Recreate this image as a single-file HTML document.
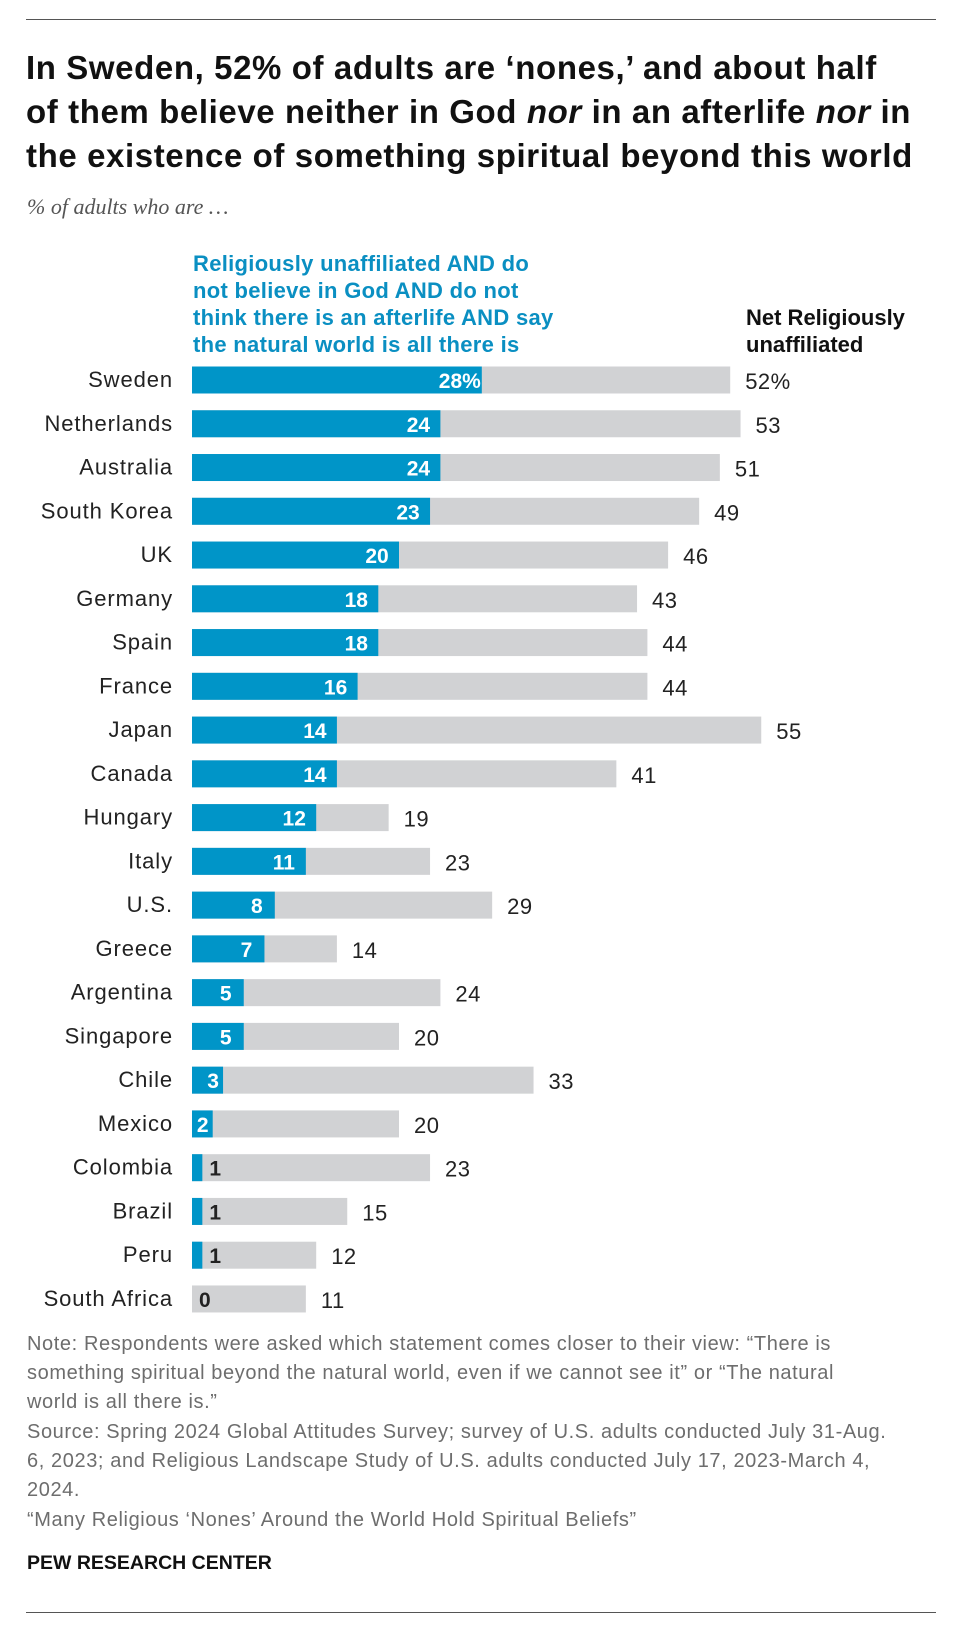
<!DOCTYPE html>
<html><head><meta charset="utf-8"><style>
body{margin:0;width:960px;height:1630px;background:#fff;position:relative;font-family:"Liberation Sans",sans-serif;overflow:hidden}
.rule{position:absolute;left:26px;width:910px;height:1px;background:#555}
#title{position:absolute;left:26px;top:46px;font-size:33px;font-weight:bold;line-height:44px;color:#111;letter-spacing:0.6px;white-space:nowrap}
#sub{position:absolute;left:27px;top:194px;font-family:"Liberation Serif",serif;font-style:italic;font-size:22px;color:#555}
.leg{position:absolute;font-weight:bold;font-size:22px;line-height:27px;white-space:nowrap}
.note{position:absolute;left:27px;font-size:20px;letter-spacing:0.6px;line-height:29px;color:#6d6d6d;width:895px}
</style></head><body>
<div class="rule" style="top:19px"></div>
<div id="title">In Sweden, 52% of adults are ‘nones,’ and about half<br>of them believe neither in God <i>nor</i> in an afterlife <i>nor</i> in<br>the existence of something spiritual beyond this world</div>
<div id="sub">% of adults who are …</div>
<div class="leg" style="left:193px;top:250px;color:#0a8fc2;letter-spacing:0.3px">Religiously unaffiliated AND do<br>not believe in God AND do not<br>think there is an afterlife AND say<br>the natural world is all there is</div>
<div class="leg" style="left:746px;top:304px;color:#111">Net Religiously<br>unaffiliated</div>
<svg id="chart" width="960" height="1630" style="position:absolute;left:0;top:0"></svg>
<div class="note" style="top:1330px">Note: Respondents were asked which statement comes closer to their view: “There is<br>something spiritual beyond the natural world, even if we cannot see it” or “The natural<br>world is all there is.”</div>
<div class="note" style="top:1418px">Source: Spring 2024 Global Attitudes Survey; survey of U.S. adults conducted July 31-Aug.<br>6, 2023; and Religious Landscape Study of U.S. adults conducted July 17, 2023-March 4,<br>2024.</div>
<div class="note" style="top:1506px">“Many Religious ‘Nones’ Around the World Hold Spiritual Beliefs”</div>
<div style="position:absolute;left:27px;top:1552px;font-size:19.5px;font-weight:bold;color:#111">PEW RESEARCH CENTER</div>
<div class="rule" style="top:1612px"></div>
<script>
const countries=["Sweden","Netherlands","Australia","South Korea","UK","Germany","Spain","France","Japan","Canada","Hungary","Italy","U.S.","Greece","Argentina","Singapore","Chile","Mexico","Colombia","Brazil","Peru","South Africa"];
const nonbelievers=[28,24,24,23,20,18,18,16,14,14,12,11,8,7,5,5,3,2,1,1,1,0];
const netUnaffiliated=[52,53,51,49,46,43,44,44,55,41,19,23,29,14,24,20,33,20,23,15,12,11];
const NS="http://www.w3.org/2000/svg";
const svg=document.getElementById('chart');
const x0=192,scale=10.35;
function xs(v){return v*scale;}
function ys(i){return 380+i*43.76;}
function mk(t,a){const e=document.createElementNS(NS,t);for(const k in a)e.setAttribute(k,a[k]);svg.appendChild(e);return e;}
countries.forEach((c,i)=>{
  const y=ys(i),h=27;
  const l=mk('text',{x:173,y:y+7,'text-anchor':'end','font-size':22,'letter-spacing':0.9,fill:'#222'});l.textContent=c;
  
  
  const g=mk('rect',{x:x0,y:y-h/2,width:xs(netUnaffiliated[i]),height:h,fill:'#d1d2d4'});
  
  
  const b=mk('rect',{x:x0,y:y-h/2,width:xs(nonbelievers[i]),height:h,fill:'#0095c8'});
  
  
  const v=nonbelievers[i];
  let bl;
  if(v>=2){bl=mk('text',{x:x0+xs(v)-(v>=5?(v>=10?22:18):10),y:y+8,'text-anchor':'middle','font-size':21,'font-weight':'bold',fill:'#fff'});bl.textContent=v+(i===0?'%':'');}
  else{bl=mk('text',{x:x0+xs(v)+7,y:y+8,'font-size':21,'font-weight':'bold',fill:'#222'});bl.textContent=v;}
  
  
  const nl=mk('text',{x:x0+xs(netUnaffiliated[i])+15,y:y+9,'font-size':22,'letter-spacing':0.5,fill:'#222'});nl.textContent=netUnaffiliated[i]+(i===0?'%':'');
  
  
});
</script>
</body></html>
